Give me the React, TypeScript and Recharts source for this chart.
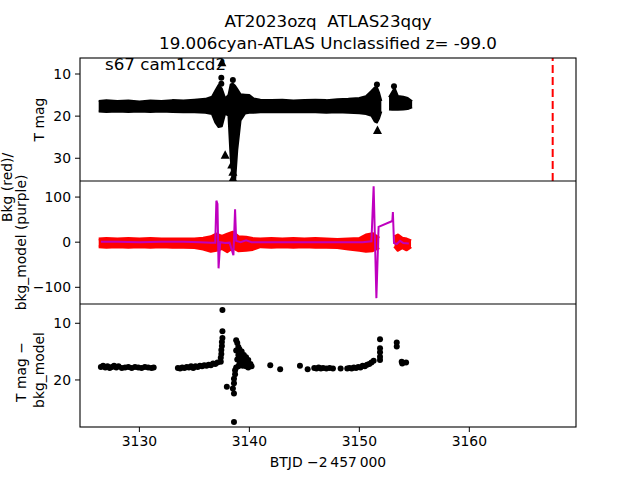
import React from "react";
import {
  ComposedChart,
  Area,
  Line,
  Scatter,
  XAxis,
  YAxis,
  ReferenceLine,
} from "recharts";

// time axis (BTJD - 2457000)
const xTicks = [3130, 3140, 3150, 3160];
const xDomain = [3124.6, 3169.7];
const discoveryT = 3167.58;

// panel 1: T mag band (dense points drawn as a filled band)
const tmagBandTime = [
  3126.3, 3127.0, 3128.0, 3129.0, 3130.0, 3131.0, 3132.0, 3133.0, 3134.0, 3135.0,
  3136.0, 3136.6, 3136.9, 3137.2, 3137.5, 3137.8, 3138.1, 3138.3, 3138.5, 3138.7,
  3138.9, 3139.2, 3139.6, 3140.0, 3140.4, 3141.0, 3142.0, 3143.0, 3144.0, 3145.0,
  3146.0, 3147.0, 3148.0, 3149.0, 3150.0, 3150.6, 3151.1, 3151.4, 3151.6, 3151.8,
  3152.0, 3152.3, 3152.7, 3153.0, 3153.2, 3153.5, 3154.0, 3154.4, 3154.8,
];
const tmagBandTop = [
  16.4, 16.2, 16.4, 16.3, 16.5, 16.3, 16.4, 16.2, 16.3, 16.1,
  15.9, 15.4, 14.0, 12.6, 13.5, 15.8, 15.0, 12.5, 12.3, 12.8,
  13.6, 14.8, 14.9, 15.0, 15.8, 16.1, 16.2, 16.1, 16.3, 16.2,
  16.1, 16.2, 16.0, 15.9, 15.7, 15.3, 14.0, 13.2, 13.2, 14.5,
  16.4, null, 15.5, 14.2, 13.3, 15.2, 15.4, 15.7, 16.5,
];
const tmagBandBottom = [
  18.9, 19.0, 18.9, 19.0, 18.9, 19.0, 18.9, 19.0, 19.1, 19.1,
  19.2, 19.5, 21.5, 22.6, 22.4, 19.4, 19.9, 30.0, 35.5, 35.5,
  28.0, 21.0, 19.4, 19.2, 19.2, 19.1, 19.0, 19.1, 19.0, 19.1,
  19.1, 19.2, 19.1, 19.2, 19.3, 19.5, 19.9, 21.3, 21.5, 20.5,
  18.9, null, 18.4, 18.5, 18.5, 18.5, 18.4, 18.3, 17.9,
];
const tmagDotTime = [3137.45, 3137.45, 3138.5, 3151.6, 3153.15];
const tmagDotMag = [10.9, 12.3, 11.4, 12.5, 12.9];
const tmagLimitTime = [3137.5, 3137.8, 3138.4, 3138.5, 3138.5, 3151.65];
const tmagLimitMag = [7.3, 29.3, 31.6, 33.3, 34.8, 23.4];
const tmagTicks = [10, 20, 30];

// panel 2: background (red) and background model (purple)
const bkgBandTime = [
  3126.3, 3127.0, 3128.0, 3129.0, 3130.0, 3131.0, 3132.0, 3133.0, 3134.0, 3135.0,
  3135.8, 3136.5, 3137.0, 3137.5, 3138.0, 3138.5, 3139.0, 3139.7, 3140.3, 3141.0,
  3142.0, 3143.0, 3144.0, 3145.0, 3146.0, 3147.0, 3148.0, 3149.0, 3150.0, 3150.6,
  3151.2, 3151.8, 3152.3, 3153.2, 3153.5, 3153.9, 3154.3, 3154.7,
];
const bkgBandLow = [
  -10, -11, -10, -11, -10, -11, -10, -11, -11, -12,
  -15, -20, -18, -14, -21, -12, -19, -18, -16, -10,
  -11, -10, -11, -10, -11, -11, -12, -15, -18, -20,
  -19, -12, null, -9, -18, -12, -17, -10,
];
const bkgBandHigh = [
  7, 8, 7, 8, 7, 8, 7, 7, 7, 7,
  9, 12, 18, 13, 18, 22, 12, 11, 8, 7,
  8, 7, 8, 7, 8, 7, 6, 7, 8, 16,
  19, 9, null, 12, 16, 9, 7, 3,
];
const bkgModelTime = [
  3126.5, 3128.0, 3130.0, 3132.0, 3134.0, 3135.5, 3136.5, 3136.9, 3137.0, 3137.1,
  3137.2, 3137.35, 3137.8, 3138.2, 3138.55, 3138.7, 3138.8, 3139.2, 3139.7, 3140.2,
  3142.0, 3145.0, 3148.0, 3150.3, 3151.1, 3151.2, 3151.3, 3151.55, 3151.75, 3153.0,
  3153.05, 3153.15, 3153.4, 3153.7, 3154.0, 3154.5,
];
const bkgModelValue = [
  1, 1, 0, 1, 1, 0, -1, -1, 92, 85,
  -58, 0, -2, -1, -29, 73, 3, 0, 4, 0,
  0, 0, 0, 0, 2, 64, 124, -124, 34, 47,
  67, -2, -4, 3, -2, -3,
];
const bkgTicks = [-100, 0, 100];

// panel 3: T mag - bkg_model
const diffTime = [
  3126.5, 3126.7, 3126.9, 3127.1, 3127.3, 3127.5, 3127.7, 3127.9, 3128.1, 3128.4,
  3128.7, 3129.0, 3129.3, 3129.6, 3129.9, 3130.2, 3130.5, 3130.8, 3131.1, 3131.3,
  3133.5, 3133.7, 3133.9, 3134.1, 3134.3, 3134.5, 3134.7, 3134.9, 3135.1, 3135.3,
  3135.5, 3135.7, 3135.9, 3136.1, 3136.3, 3136.5, 3136.7, 3136.9, 3137.1,
  3137.55, 3137.55, 3137.55, 3137.5, 3137.5, 3137.45, 3137.45, 3137.4, 3137.4,
  3137.95, 3138.6, 3138.8, 3138.9, 3139.0, 3138.8, 3139.0, 3138.9, 3139.1, 3139.3,
  3139.5, 3139.7, 3139.9, 3140.1, 3140.2, 3139.4, 3139.7, 3138.8, 3138.7, 3138.7,
  3138.6, 3138.6, 3138.5, 3138.6,
  3139.1, 3139.2, 3139.3, 3139.4, 3139.5, 3139.6, 3139.8, 3139.2, 3139.0, 3139.9,
  3141.9, 3142.8, 3144.6, 3145.3,
  3145.9, 3146.1, 3146.3, 3146.5, 3146.7, 3147.0, 3147.3, 3147.6, 3148.3,
  3148.9, 3149.1, 3149.3, 3149.5, 3149.7, 3149.9, 3150.1, 3150.3, 3150.5, 3150.7,
  3150.9, 3151.1, 3151.3,
  3151.88, 3151.88, 3151.88, 3151.88, 3151.88,
  3153.4, 3153.4, 3153.85, 3154.25, 3153.9,
];
const diffMag = [
  17.7, 17.5, 17.8, 17.6, 17.9, 17.7, 17.5, 17.8, 17.6, 17.9,
  17.8, 17.7, 17.9, 17.7, 17.8, 17.9, 17.7, 17.8, 17.9, 17.8,
  17.9, 18.0, 17.8, 17.9, 17.7, 17.8, 17.6, 17.9, 17.6, 17.7,
  17.5, 17.6, 17.4, 17.5, 17.3, 17.4, 17.1, 17.2, 16.9,
  7.65, 11.4, 12.6, 13.3, 14.0, 14.7, 15.4, 16.1, 16.8,
  21.2, 27.4, 13.0, 13.5, 14.2, 14.8, 15.6, 16.4, 17.2, 15.0,
  15.6, 16.0, 16.5, 17.2, 17.6, 17.5, 17.6, 17.8, 18.3, 19.0,
  19.8, 20.6, 21.5, 22.4,
  14.6, 15.8, 16.4, 16.2, 16.8, 17.0, 17.4, 17.2, 17.6, 17.8,
  17.4, 18.1, 17.5, 18.1,
  17.9, 18.0, 17.8, 18.0, 17.9, 18.0, 17.9, 18.0, 18.0,
  18.0, 17.9, 18.0, 17.8, 17.9, 17.7, 17.8, 17.5, 17.6, 17.3,
  17.2, 16.9, 16.6,
  12.8, 14.4, 15.1, 15.9, 16.5,
  13.4, 14.1, 16.8, 16.9, 17.1,
];
const diffTicks = [10, 20];

const tmagBandRows = tmagBandTime.map((t, i) => ({
  t,
  band: tmagBandTop[i] == null ? null : [tmagBandTop[i], tmagBandBottom[i]],
}));
const tmagDots = tmagDotTime.map((t, i) => ({ t, m: tmagDotMag[i] }));
const tmagLimits = tmagLimitTime.map((t, i) => ({ t, m: tmagLimitMag[i] }));
const bkgBandRows = bkgBandTime.map((t, i) => ({
  t,
  band: bkgBandLow[i] == null ? null : [bkgBandLow[i], bkgBandHigh[i]],
}));
const bkgModelRows = bkgModelTime.map((t, i) => ({ t, v: bkgModelValue[i] }));
const diffRows = diffTime.map((t, i) => ({ t, m: diffMag[i] }));

const FONT = "DejaVu Sans";
const tickStyle = { fontSize: 13.9, fill: "#000", fontFamily: FONT };
const minusFmt = (v: number) => (v < 0 ? "\u2212" + Math.abs(v) : String(v));

const Dot = (p: any) => <circle cx={p.cx} cy={p.cy} r={3} fill="#000" />;
const Tri = (p: any) => (
  <polygon
    points={`${p.cx},${p.cy - 5} ${p.cx - 4.5},${p.cy + 3.5} ${p.cx + 4.5},${p.cy + 3.5}`}
    fill="#000"
  />
);

const margin = { top: 0, right: 64, bottom: 0, left: 0 };

export default function App() {
  return (
    <div
      style={{
        position: "fixed",
        left: 0,
        top: 0,
        width: 640,
        height: 480,
        background: "#fff",
        fontFamily: FONT,
      }}
    >
      {/* panel 1 */}
      <div style={{ position: "absolute", left: 0, top: 58 }}>
        <ComposedChart width={640} height={123} data={tmagBandRows} margin={margin}>
          <XAxis dataKey="t" type="number" domain={xDomain} allowDataOverflow hide />
          <YAxis
            width={80}
            reversed
            type="number"
            domain={[6.2, 35.4]}
            allowDataOverflow
            ticks={tmagTicks}
            tick={tickStyle}
            tickSize={5}
            tickMargin={4}
            axisLine={false}
            tickLine={{ stroke: "#000" }}
          />
          <Area
            dataKey="band"
            type="linear"
            fill="#000"
            fillOpacity={1}
            stroke="#000"
            strokeWidth={2}
            strokeLinejoin="round"
            isAnimationActive={false}
          />
          <Scatter data={tmagDots} dataKey="m" shape={Dot} isAnimationActive={false} />
          <Scatter data={tmagLimits} dataKey="m" shape={Tri} isAnimationActive={false} />
          <ReferenceLine x={discoveryT} stroke="#ff0000" strokeWidth={2} strokeDasharray="8 4" />
        </ComposedChart>
      </div>

      {/* panel 2 */}
      <div style={{ position: "absolute", left: 0, top: 181 }}>
        <ComposedChart width={640} height={123} data={bkgBandRows} margin={margin}>
          <XAxis dataKey="t" type="number" domain={xDomain} allowDataOverflow hide />
          <YAxis
            width={80}
            type="number"
            domain={[-137, 135.6]}
            allowDataOverflow
            ticks={bkgTicks}
            tickFormatter={minusFmt}
            tick={tickStyle}
            tickSize={5}
            tickMargin={4}
            axisLine={false}
            tickLine={{ stroke: "#000" }}
          />
          <Area
            dataKey="band"
            type="linear"
            fill="#ff0000"
            fillOpacity={1}
            stroke="#ff0000"
            strokeWidth={3}
            strokeLinejoin="round"
            isAnimationActive={false}
          />
          <Line
            data={bkgModelRows}
            dataKey="v"
            type="linear"
            stroke="#bf00bf"
            strokeWidth={2}
            dot={false}
            isAnimationActive={false}
          />
        </ComposedChart>
      </div>

      {/* panel 3 */}
      <div style={{ position: "absolute", left: 0, top: 304 }}>
        <ComposedChart width={640} height={163} margin={margin}>
          <XAxis
            dataKey="t"
            type="number"
            domain={xDomain}
            allowDataOverflow
            ticks={xTicks}
            tick={tickStyle}
            tickSize={5}
            tickMargin={4}
            axisLine={false}
            tickLine={{ stroke: "#000" }}
            height={40}
          />
          <YAxis
            width={80}
            reversed
            type="number"
            domain={[6.6, 28.3]}
            allowDataOverflow
            ticks={diffTicks}
            tick={tickStyle}
            tickSize={5}
            tickMargin={4}
            axisLine={false}
            tickLine={{ stroke: "#000" }}
          />
          <Scatter data={diffRows} dataKey="m" shape={Dot} isAnimationActive={false} />
        </ComposedChart>
      </div>

      {/* frames, titles and axis labels */}
      <svg
        width={640}
        height={480}
        style={{ position: "absolute", left: 0, top: 0, pointerEvents: "none" }}
        fontFamily={FONT}
      >
        <rect x={80} y={58} width={496} height={369} fill="none" stroke="#000" strokeWidth={1.1} />
        <line x1={80} x2={576} y1={181} y2={181} stroke="#000" strokeWidth={1.1} />
        <line x1={80} x2={576} y1={304} y2={304} stroke="#000" strokeWidth={1.1} />
        <text x={328} y={27} fontSize={16.7} textAnchor="middle">
          AT2023ozq{"\u00a0\u00a0"}ATLAS23qqy
        </text>
        <text x={328} y={49} fontSize={16.7} textAnchor="middle">
          19.006cyan-ATLAS Unclassified z= -99.0
        </text>
        <text x={105} y={70} fontSize={16.7}>
          s67 cam1ccd2
        </text>
        <text x={328} y={467} fontSize={13.9} textAnchor="middle">
          BTJD {"\u2212"}2{"\u2009"}457{"\u2009"}000
        </text>
        <text transform="translate(44,119.5) rotate(-90)" fontSize={13.9} textAnchor="middle">
          T mag
        </text>
        <text transform="translate(12,222) rotate(-90)" fontSize={13.9} textAnchor="start">
          Bkg (red)/
        </text>
        <text transform="translate(26,242.5) rotate(-90)" fontSize={13.9} textAnchor="middle">
          bkg_model (purple)
        </text>
        <text transform="translate(26,372) rotate(-90)" fontSize={13.9} textAnchor="middle">
          T mag {"\u2212"}
        </text>
        <text transform="translate(44,370) rotate(-90)" fontSize={13.9} textAnchor="middle">
          bkg_model
        </text>
      </svg>
    </div>
  );
}
